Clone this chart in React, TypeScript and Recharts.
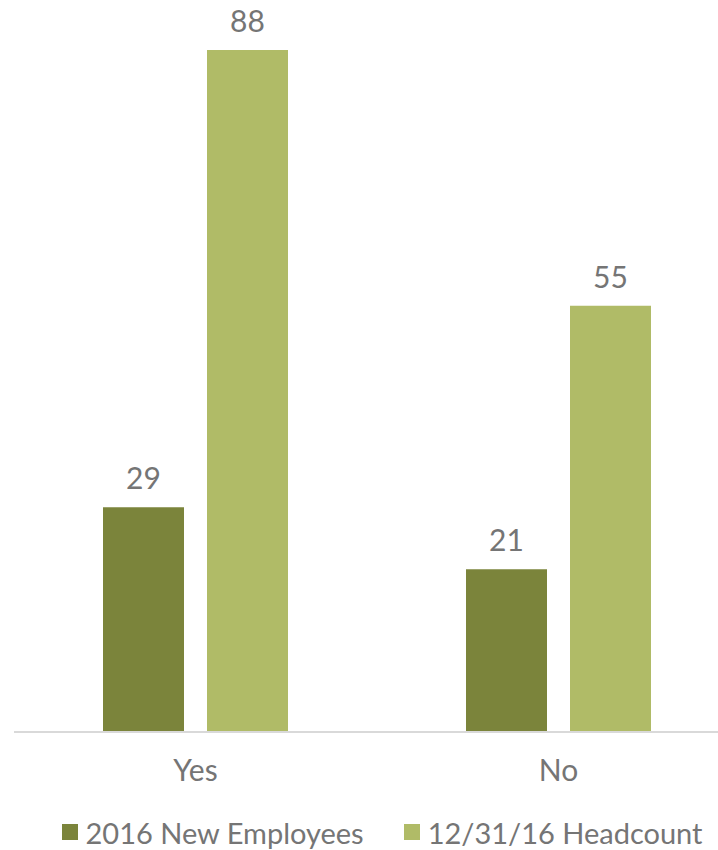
import { BarChart, Bar, XAxis, YAxis, LabelList, Legend } from "recharts";

const categories = ["Yes", "No"];
const newEmployees = [29, 21];
const headcount = [88, 55];
const seriesNames = ["2016 New Employees", "12/31/16 Headcount"];

const DARK = "#7b843b";
const LIGHT = "#b0bb67";
const TEXT = "#757575";
const FONT = "Lato, 'Open Sans', sans-serif";

const rows = categories.map((c, i) => ({
  name: c,
  newEmp: newEmployees[i],
  head: headcount[i],
}));

function LegendBox() {
  const items = [
    { label: seriesNames[0], color: DARK },
    { label: seriesNames[1], color: LIGHT },
  ];
  return (
    <div style={{ display: "flex", justifyContent: "center", gap: 40, fontFamily: FONT, fontSize: 29, color: TEXT, height: 36, alignItems: "center", paddingLeft: 24 }}>
      {items.map((it) => (
        <div key={it.label} style={{ display: "flex", alignItems: "center" }}>
          <span style={{ width: 16, height: 16, background: it.color, display: "inline-block", marginRight: 8 }} />
          <span>{it.label}</span>
        </div>
      ))}
    </div>
  );
}

export default function App() {
  return (
    <div style={{ position: "absolute", left: 0, top: 0, width: 718, height: 850, overflow: "hidden", background: "#fff" }}>
      <BarChart
        width={740}
        height={850}
        data={rows}
        margin={{ top: 50, right: 0, left: 14, bottom: 0 }}
        barGap={23}
        barCategoryGap={89}
      >
        <XAxis
          dataKey="name"
          axisLine={{ stroke: "#d9d9d9", strokeWidth: 2 }}
          tickLine={false}
          tickMargin={22}
          height={82}
          tick={{ fill: TEXT, fontSize: 30, fontFamily: FONT }}
        />
        <YAxis hide domain={[0, 88]} />
        <Legend
          verticalAlign="bottom"
          height={36}
          content={() => <LegendBox />}
          wrapperStyle={{ left: 0, width: 740 }}
        />
        <Bar dataKey="newEmp" fill={DARK} isAnimationActive={false}>
          <LabelList dataKey="newEmp" position="top" offset={18} fill={TEXT} fontSize={30} fontFamily={FONT} />
        </Bar>
        <Bar dataKey="head" fill={LIGHT} isAnimationActive={false}>
          <LabelList dataKey="head" position="top" offset={18} fill={TEXT} fontSize={30} fontFamily={FONT} />
        </Bar>
      </BarChart>
    </div>
  );
}
